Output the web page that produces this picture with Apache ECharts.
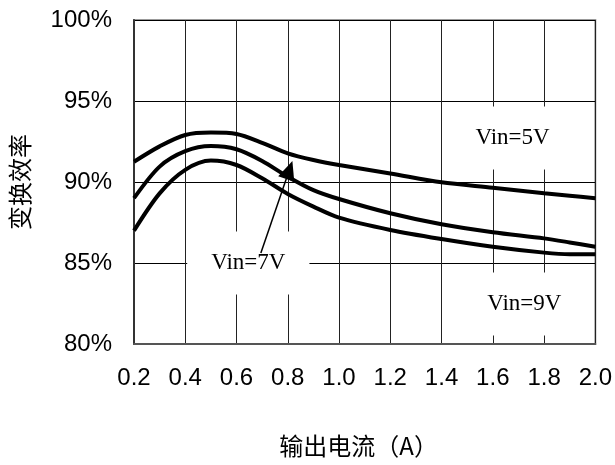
<!DOCTYPE html>
<html>
<head>
<meta charset="utf-8">
<script src="https://cdn.jsdelivr.net/npm/echarts@6/dist/echarts.min.js"></script>
<style>html,body{margin:0;padding:0;background:#fff;}#c{width:615px;height:465px;}</style>
</head>
<body>
<div id="c"></div>
<script>
const xValues = [0.2, 0.3, 0.4, 0.5, 0.6, 0.7, 0.8, 0.9, 1.0, 1.2, 1.4, 1.6, 1.8, 1.9, 2.0];
const vin5 = [91.25, 92.2, 92.9, 93.05, 92.96, 92.42, 91.77, 91.36, 91.05, 90.53, 89.98, 89.65, 89.3, 89.15, 89.0];
const vin7 = [89.0, 90.95, 91.9, 92.22, 92.02, 91.3, 90.33, 89.5, 88.95, 88.07, 87.39, 86.9, 86.52, 86.27, 86.0];
const vin9 = [87.0, 89.3, 90.75, 91.32, 91.05, 90.23, 89.26, 88.48, 87.8, 87.04, 86.48, 86.0, 85.64, 85.54, 85.54];
const seriesNames = ['Vin=5V', 'Vin=7V', 'Vin=9V'];
const xTitle = '输出电流（A）';
const yTitle = '变换效率';
const arrowFrom = [0.695, 85.62];
const arrowTo = [0.806, 90.74];
const labelPos = [[1.677, 92.72], [0.646, 85.0], [1.723, 82.47]];

const chart = echarts.init(document.getElementById('c'), null, {renderer: 'canvas'});
const pair = arr => xValues.map((x, i) => [x, arr[i]]);
const lineStyle = {color: '#000', width: 4};
const sansFont = '"Liberation Sans", Arial, sans-serif';
const cjkFont = '"Noto Sans CJK SC", sans-serif';
const serifFont = '"Liberation Serif", "Times New Roman", serif';

const option = {
  animation: false,
  backgroundColor: '#fff',
  grid: {left: 134, right: 19, top: 20, bottom: 121, show: true, borderColor: '#999', borderWidth: 2, backgroundColor: 'transparent'},
  xAxis: {
    type: 'value', min: 0.2, max: 2.0, interval: 0.2,
    name: xTitle, nameLocation: 'middle', nameGap: 90,
    nameTextStyle: {fontFamily: cjkFont, fontSize: 24, color: '#000', padding: [0, 12, 0, 0]},
    axisLine: {show: true, lineStyle: {color: '#555', width: 2}},
    axisTick: {show: false},
    axisLabel: {margin: 22, fontFamily: sansFont, fontSize: 24, color: '#000', formatter: v => v.toFixed(1)},
    splitLine: {show: true, lineStyle: {color: '#222', width: 1}}
  },
  yAxis: {
    type: 'value', min: 80, max: 100, interval: 5,
    name: yTitle, nameLocation: 'middle', nameGap: 102, nameRotate: 90,
    nameTextStyle: {fontFamily: cjkFont, fontSize: 24, color: '#000'},
    axisLine: {show: true, lineStyle: {color: '#333', width: 2}},
    axisTick: {show: false},
    axisLabel: {margin: 22, fontFamily: sansFont, fontSize: 24, color: '#000', formatter: '{value}%'},
    splitLine: {show: true, lineStyle: {color: '#000', width: 1}}
  },
  series: [
    {name: seriesNames[0], type: 'line', data: pair(vin5), showSymbol: false, smooth: 0.3, lineStyle: lineStyle, z: 3},
    {name: seriesNames[1], type: 'line', data: pair(vin7), showSymbol: false, smooth: 0.3, lineStyle: lineStyle, z: 3,
      markLine: {
        silent: true, animation: false,
        symbol: ['none', 'triangle'], symbolSize: [17, 19],
        label: {show: false},
        lineStyle: {color: '#000', width: 1.5, type: 'solid'},
        data: [[{coord: arrowFrom}, {coord: arrowTo}]]
      }},
    {name: seriesNames[2], type: 'line', data: pair(vin9), showSymbol: false, smooth: 0.3, lineStyle: lineStyle, z: 3}
  ]
};
chart.setOption(option);

chart.setOption({
  graphic: seriesNames.map((name, i) => {
    const p = chart.convertToPixel({gridIndex: 0}, labelPos[i]);
    return {
      type: 'text', z: 1, zlevel: 0,
      x: p[0], y: p[1],
      style: {
        text: name, fontFamily: serifFont, fontSize: 23, fill: '#000',
        align: 'center', verticalAlign: 'middle',
        backgroundColor: '#fff', padding: [20, 24]
      }
    };
  })
});
</script>
</body>
</html>
